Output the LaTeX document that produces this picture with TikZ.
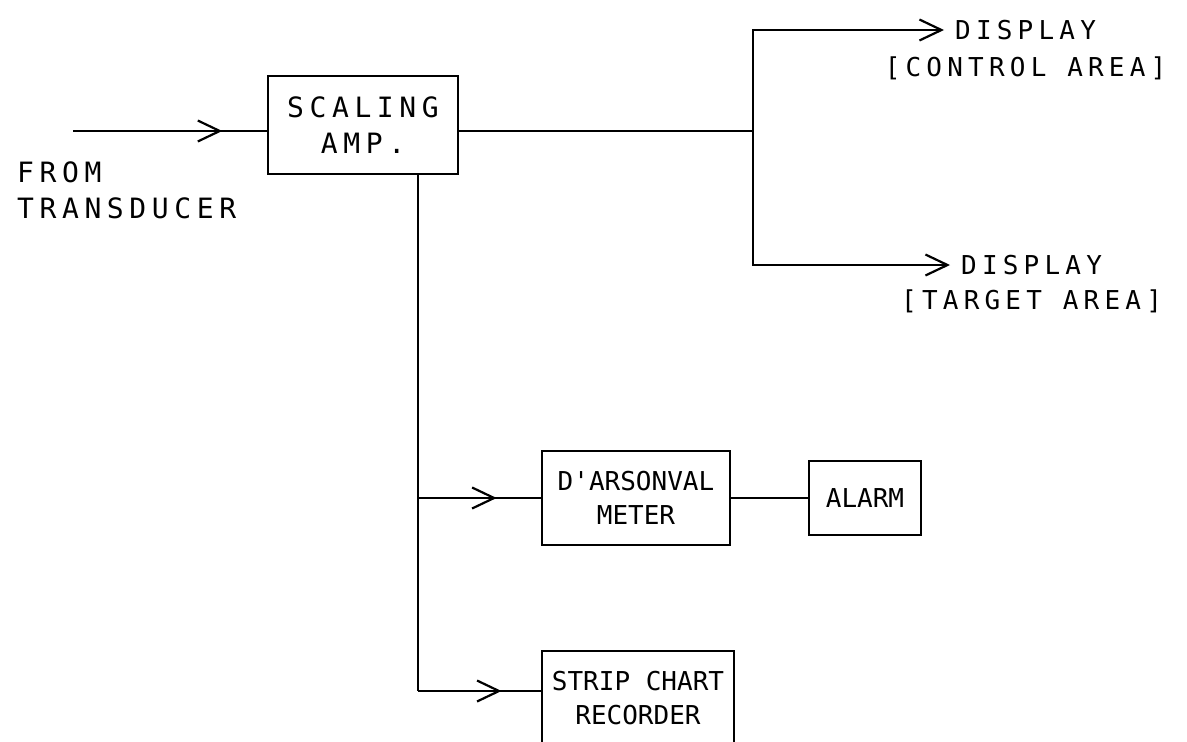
\documentclass[tikz,border=0pt]{standalone}
\usepackage{fontspec}
\newfontfamily\leroy{DejaVu Sans Mono}
\newfontfamily\leroywide[LetterSpace=20]{DejaVu Sans Mono}
\usetikzlibrary{arrows.meta, positioning, decorations.markings}

\begin{document}
\begin{tikzpicture}[x=1pt, y=-1pt,
  >={Straight Barb[length=22pt, width=21pt]},
  wire/.style={line width=2.2pt},
  thinwire/.style={line width=1.3pt},
  arr/.style={wire, ->},
  midarrow/.style={postaction={decorate}, decoration={markings,
      mark=at position #1 with {\arrow{>}}}},
  blk/.style={rectangle, draw, line width=2.2pt, align=center, inner sep=0pt,
              font=\leroy\fontsize{26}{34}\selectfont},
  lbl/.style={inner sep=0pt, font=\leroywide\fontsize{26}{35}\selectfont},
  biglbl/.style={font=\leroywide\fontsize{28}{36}\selectfont},
  tag/.style={lbl, text height=19pt, text depth=0pt},
  disp/.style={tag, inner xsep=11pt}
]
  \useasboundingbox (0,0) rectangle (1187,742);

  % blocks
  \node[blk, biglbl, minimum width=190pt, minimum height=98pt] (amp) at (363,125) {SCALING\\AMP.};
  \node[blk, minimum width=188pt, minimum height=94pt] (meter) at (636,498) {D'ARSONVAL\\METER};
  \node[blk, minimum width=112pt, minimum height=74pt] (alarm) at (865,498) {ALARM};
  \node[blk, minimum width=192pt, minimum height=94pt] (strip) at (638,698) {STRIP CHART\\RECORDER};

  % labels
  \node[lbl, biglbl, align=left, anchor=north west] (src) at (17,162) {FROM\\TRANSDUCER};
  \node[disp, anchor=west] (dispC) at (944,30) {DISPLAY};
  \node[tag, below=18pt of dispC] (ctrl) {[CONTROL AREA]};
  \node[disp, anchor=west] (dispT) at (950,265) {DISPLAY};
  \node[tag, below=16pt of dispT] (targ) {[TARGET AREA]};

  % branch points
  \coordinate (in) at (73,131);
  \coordinate (split) at (753,131);
  \coordinate (tapM) at (418,498);
  \coordinate (tapS) at (418,691);

  % connections
  \draw[wire, midarrow=0.77] (in) -- (in -| amp.west);
  \draw[wire] (amp.east |- split) -- (split);
  \draw[arr] (split) |- (dispC.west);
  \draw[arr] (split) |- (dispT.west);
  \draw[wire] (amp.south -| tapS) -- (tapS);
  \draw[wire, midarrow=0.64] (tapM) -- (meter.west);
  \draw[wire, midarrow=0.68] (tapS) -- (tapS -| strip.west);
  \draw[thinwire] (meter) -- (alarm);
\end{tikzpicture}
\end{document}
